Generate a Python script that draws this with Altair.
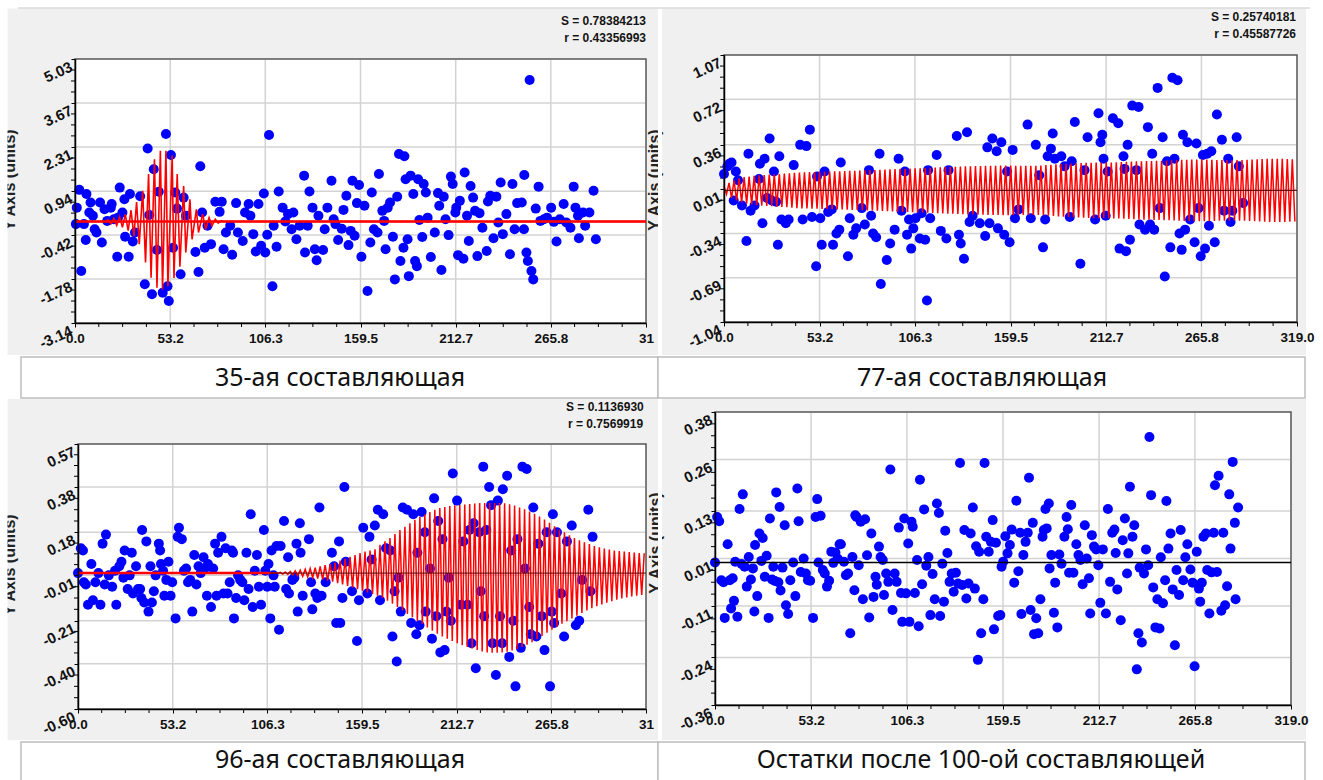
import altair as alt
import numpy as np
import pandas as pd

# ---------------- axis tick labels ----------------
X_MAX = 319.0
X_TICKS = [0.0, 53.2, 106.3, 159.5, 212.7, 265.8, 319.0]
TL_Y_TICKS = [-3.14, -1.78, -0.42, 0.94, 2.31, 3.67, 5.03]
TR_Y_TICKS = [-1.04, -0.69, -0.34, 0.01, 0.36, 0.72, 1.07]
BL_Y_TICKS = [-0.60, -0.40, -0.21, -0.01, 0.18, 0.38, 0.57]
BR_Y_TICKS = [-0.36, -0.24, -0.11, 0.01, 0.13, 0.26, 0.38]
CUT_LABEL = '31'

CAPTIONS = ['35-ая составляющая', '77-ая составляющая', '96-ая составляющая',
            'Остатки после 100-ой составляющей']
STATS_TL = ['S = 0.78384213', 'r = 0.43356993']
STATS_TR = ['S = 0.25740181', 'r = 0.45587726']
STATS_BL = ['S = 0.1136930', 'r = 0.7569919']
AXIS_TITLE = 'Y Axis (units)'

# ---------------- points (x, y) ----------------
tl_pts = [(0.5,-0.08),(1,0.43),(2.4,0.98),(3.5,-1.53),(5,-0.08),(6,-0.57),(6.4,0.85),(8,0.28),(8.7,0.59),(10,0.18),
(11,-0.24),(12,-0.34),(14,0.59),(15,-0.65),(16.5,0.38),(18,0.02),(20,0.43),(20.5,0.54),(21.7,0.07),(23.6,-1.09),
(24,0.12),(25,1.05),(26.5,0.28),(27.6,0.69),(28,-0.47),(30,-1.09),(30.7,0.85),(32.3,-0.62),(33.5,-0.34),(36.4,0.78),
(39,-1.94),(40.6,2.26),(41.5,0.2),(43,-2.25),(44,1.62),(45.8,-0.88),(46.8,0.92),(49,-2.2),(50.8,2.71),(51.7,-2.0),
(52.4,-2.46),(53.6,2.06),(54.8,-0.81),(56,0.9),(57,0.4),(59,-1.63),(60.7,0.74),(62,0.18),(67.3,-0.94),(69,-1.56),
(70,1.71),(71,0.28),(72.5,-0.81),(74,-0.13),(76,-0.7),(78.4,0.61),(80.8,0.3),(82,0.61),(83,-0.86),(84.3,-0.34),
(86.7,-0.13),(87.8,-1.03),(90,0.57),(91,-0.34),(93.7,-0.6),(95,0.28),(97,0.54),(98,0.18),(99.6,-0.39),(101,-0.93),
(102.5,0.54),(104,-0.75),(105.5,0.87),(106.3,-0.96),(107.4,-0.41),(108.4,2.68),(110.3,-2.0),(111,-0.13),(112.6,-0.78),(113.8,0.93),
(116,0.43),(117.5,0.0),(119,0.23),(121,-0.24),(122,0.28),(123.7,-0.55),(125.5,-0.13),(128,1.42),(128.5,-0.96),(130,-0.13),
(131,0.93),(132.7,0.43),(134,-0.86),(135,-1.2),(136,0.18),(138.6,-0.88),(139.5,-0.24),(141,0.43),(143.3,1.26),(144.5,0.07),
(145.5,-0.08),(147,-0.57),(149,-0.22),(150,0.36),(151.6,0.8),(152.8,-0.73),(154,-0.29),(155,1.26),(156.2,-0.44),(157.5,0.57),
(158.7,1.13),(160,-1.09),(161.7,0.49),(163.4,-2.15),(165,-0.65),(165.8,0.9),(167,-0.24),(169,-0.34),(169.8,1.47),(171.7,0.33),
(172.7,0.02),(173.5,-0.86),(174.7,0.43),(176,0.59),(177.6,-0.47),(178.7,-1.79),(180,0.77),(181,2.09),(181.8,-1.22),(183.5,-0.81),
(184,2.02),(184.7,1.31),(185.8,-0.55),(186.5,-1.69),(187.5,1.42),(189,0.85),(190,-1.22),(191,-1.38),(191.7,1.31),(192.4,0.05),
(194,-0.48),(194.8,1.16),(196,0.9),(197,0.12),(198.8,-1.1),(201,-0.34),(202.8,0.88),(203.5,0.49),(204.7,-1.5),(206,0.77),
(207,0.07),(208.7,-0.42),(210,1.39),(211,1.16),(212.5,0.28),(213,0.43),(214,-1.04),(215,0.64),(217,-1.15),(217.7,1.52),
(219,0.18),(220,-0.6),(221,1.1),(222.4,0.74),(223.5,0.33),(224.8,-1.07),(226,0.26),(227.6,-0.19),(230,-0.91),(230.7,0.62),
(232,0.8),(233.8,-0.52),(235.4,0.77),(236.5,-0.03),(237.8,1.21),(239,-0.39),(241,0.23),(243,-1.01),(244.4,1.16),(245.6,-0.24),
(247,0.57),(249.6,0.59),(250.8,-0.24),(251,1.44),(252.2,-0.96),(253,-1.22),(254,4.38),(255,-1.53),(256,-1.79),(257.4,0.4),
(259,1.08),(260,0.02),(262,0.07),(263.7,0.12),(266,0.43),(267.5,-0.01),(269,-0.62),(270.8,0.07),(273,0.54),(274.5,-0.03),
(276.8,-0.19),(278.6,1.08),(279.6,0.43),(281,0.18),(281.5,-0.52),(283.8,0.28),(285,-0.13),(287.4,0.28),(289.7,0.95),(291,-0.55)]

tr_pts = [(0,0.13),(1.9,0.19),(3,0.21),(4.2,0.22),(5.4,-0.08),(6.6,0.15),(7.8,0.08),(10,-0.12),(12.5,-0.4),(13.6,0.29),
(14.8,-0.16),(17,-0.12),(19.5,0.09),(20,0.21),(21.4,-0.26),(22.6,0.25),(24,-0.06),(25.4,0.41),(26.6,-0.08),(27.8,0.15),
(29,-0.09),(30,-0.43),(30.8,0.27),(32,-0.23),(34.4,-0.26),(36,-0.23),(38.8,0.2),(42.4,0.36),(43.8,-0.23),(45.9,0.35),
(47.8,0.48),(49,-0.21),(51.3,-0.6),(51.8,0.11),(53.6,-0.22),(54.4,-0.43),(56,0.15),(58,-0.17),(60,-0.15),(60.7,-0.43),
(62.6,-0.34),(64.2,-0.31),(65,0.22),(69,-0.52),(70,-0.22),(72,-0.35),(73.6,-0.3),(76.7,-0.14),(78.4,-0.27),(80.7,0.16),
(81.9,-0.2),(83,-0.34),(84.7,-0.37),(86.6,0.29),(87.3,-0.74),(90.6,-0.55),(92.5,-0.42),(95,-0.31),(97.2,0.25),(98.8,-0.16),
(100.7,0.15),(101.9,-0.35),(103,-0.23),(104.2,-0.46),(105.4,-0.3),(106.6,-0.22),(109,-0.38),(110,-0.18),(112,-0.39),(113,-0.87),
(113.6,0.16),(114.8,-0.22),(118.4,0.28),(120.7,-0.32),(123.8,-0.38),(125,0.16),(129.6,0.43),(130.8,-0.35),(131.8,-0.42),(133.6,-0.54),
(135.3,0.46),(136.7,-0.25),(138.4,-0.2),(142.4,-0.26),(145.4,-0.36),(146.6,0.34),(147.8,-0.26),(149.4,0.41),(151.8,0.31),(152.5,-0.3),
(154.4,0.38),(156,-0.35),(157.6,0.15),(159,-0.41),(160.7,0.32),(162,-0.22),(164,-0.15),(169,0.52),(170.8,-0.22),(173.6,0.36),
(175.5,0.12),(177.6,-0.45),(178.8,-0.23),(180.2,0.27),(182,0.33),(183,0.45),(184.2,0.25),(187.8,0.27),(189.6,0.19),(192.5,-0.21),
(193.6,0.23),(195.3,0.54),(198.4,-0.58),(200.7,0.16),(202.4,0.42),(206.6,-0.23),(208.5,0.61),(209.6,0.38),(210.6,0.44),(211.3,0.25),
(212.5,-0.2),(213.6,0.15),(216.5,0.57),(219.5,0.53),(220.2,-0.46),(222.4,0.27),(223,0.17),(223.8,-0.48),(224.7,0.36),(226,-0.39),
(227.3,0.67),(229.6,0.16),(230.8,0.66),(231.3,-0.27),(234.4,-0.31),(236,0.5),(237.2,-0.27),(238.4,0.29),(239.5,-0.31),(241.4,0.81),
(242.6,-0.14),(244.2,0.42),(245.4,-0.68),(246.6,0.23),(248.5,-0.45),(249.6,0.89),(250.8,0.25),(252.5,0.87),(253.6,-0.34),(254.8,-0.47),
(255.5,0.44),(256.7,-0.31),(258,0.38),(259.5,-0.23),(262,-0.41),(263,0.37),(264.2,-0.14),(265.4,-0.52),(266.6,0.28),(267.8,-0.46),
(269,0.29),(270,-0.28),(271.3,0.31),(273.2,-0.41),(274.4,0.6),(277.2,0.4),(278.4,-0.16),(280.7,0.25),(282,-0.25),(283,-0.16),
(285.4,0.42),(286.6,0.19),(289,-0.1)]

bl_pts = [(0,0.0),(1.6,0.11),(2.8,0.1),(3.3,-0.04),(4.4,-0.05),(5.6,-0.14),(7.5,0.04),(8.4,-0.12),(9.8,-0.04),(11.5,0.0),
(12.6,-0.14),(13.8,0.13),(15,-0.05),(15.7,0.17),(17.3,-0.01),(19.2,-0.06),(20.8,0.01),(21.5,-0.14),(23.2,0.03),(24.4,0.05),
(25.5,-0.02),(26.2,0.1),(27.9,-0.07),(29,-0.01),(30.2,0.09),(30.9,-0.09),(32.6,0.03),(33.7,-0.07),(34.9,-0.07),(35.6,-0.11),
(36,0.19),(37.2,-0.13),(38.4,0.14),(39.6,-0.17),(40.7,0.03),(41.5,-0.13),(42.6,-0.08),(43.6,-0.01),(45.4,0.13),(46.1,0.1),
(46.6,0.04),(47.8,0.01),(48.5,-0.1),(49.6,-0.03),(50.8,0.05),(52,-0.1),(52.9,-0.04),(54.8,-0.2),(56,0.16),(56.7,0.2),
(58.3,0.15),(59.5,0.01),(60.7,0.02),(61.8,-0.04),(63,-0.03),(64.2,-0.17),(65.3,0.08),(66.5,-0.05),(67.7,0.03),(68.9,0.0),
(70.5,0.07),(71.2,0.02),(72.4,-0.1),(73,0.04),(74.7,-0.15),(75.9,0.02),(77,0.13),(77.8,-0.1),(78.7,0.09),(80.6,0.16),
(81.7,-0.09),(82.9,0.11),(84,-0.09),(85.2,-0.04),(86.4,0.1),(87.1,0.09),(87.6,-0.2),(88.8,-0.11),(89.9,-0.01),(91.1,-0.03),
(92.3,-0.04),(93.4,-0.12),(94.6,0.09),(95.8,-0.07),(97,0.26),(98.1,-0.15),(99.3,0.01),(100.5,0.08),(101.6,-0.06),(102.8,-0.14),
(104.4,0.19),(105.2,0.01),(106.3,-0.06),(107,0.04),(108,-0.2),(108.7,0.1),(109.8,-0.01),(110.5,-0.06),(111.5,0.12),(112.9,-0.25),
(113.8,0.12),(115.7,0.23),(116.9,-0.07),(118,0.07),(118.5,-0.09),(120.4,-0.03),(121.5,-0.02),(122.7,0.13),(123.4,-0.17),(124.6,0.22),
(125,0.09),(126.2,-0.1),(129.7,0.15),(130.9,-0.04),(131.6,-0.16),(133.3,-0.09),(134.4,-0.11),(135.6,0.29),(136.8,-0.1),(139.1,-0.04),
(142.6,0.09),(143.8,0.03),(145,-0.22),(146.6,0.14),(147.3,-0.22),(148.5,-0.11),(149.6,0.38),(150.4,0.05),(153.9,-0.08),(156.7,-0.3),
(157.8,-0.12),(160.2,0.2),(162.5,-0.09),(163.7,0.16),(164.9,0.06),(166.7,0.21),(168.4,0.28),(169.6,-0.12),(171.4,0.26),(173,0.11),
(175.4,0.1),(176.6,-0.28),(177.8,-0.08),(179,-0.39),(180,-0.02),(181.3,-0.17),(182.4,0.29),(184.8,0.28),(187.1,-0.22),(188.3,0.26),
(190,-0.27),(190.6,0.09),(191.8,-0.23),(193,0.27),(194.8,0.18),(195.3,-0.17),(197.7,0.02),(198.8,-0.29),(200,0.33),(201.2,-0.19),
(202.3,0.23),(203.5,-0.35),(204.7,0.15),(205.9,-0.34),(207,-0.17),(208.2,-0.02),(209.4,-0.21),(210.5,0.44),(212.9,0.32),(215.2,-0.14),
(216.4,0.14),(218.7,-0.14),(219.9,0.19),(221,-0.31),(222.2,0.22),(223.4,-0.42),(225.3,0.18),(226.2,-0.08),(227.6,0.47),(228.1,-0.19),
(229.3,0.19),(230.9,0.38),(232,0.3),(232.8,-0.31),(234.7,-0.45),(235.8,0.32),(237,-0.19),(238.2,-0.31),(238.6,0.37),(241,0.43),
(242.2,-0.37),(243.3,0.1),(244.5,-0.21),(245.7,-0.5),(246.8,0.15),(248.7,-0.33),(249.6,0.47),(251,0.02),(252,0.46),(253.4,-0.15),
(254.3,-0.27),(255.7,0.29),(257.4,-0.28),(258.5,0.13),(260.4,-0.19),(262,-0.34),(263.2,0.18),(265.1,-0.5),(266,-0.17),(266.7,0.26),
(267.4,-0.22),(269,0.18),(271.4,-0.09),(273,-0.28),(274.6,0.14),(277.3,0.21),(279.6,-0.23),(281.5,-0.21),(283.1,-0.03),(286.6,0.28),
(287.8,-0.08),(289,0.16)]

br_pts = [(0,0.0),(1.2,0.115),(2.3,0.104),(3.5,-0.045),(4.7,-0.05),(5.4,-0.14),(7,0.046),(8.2,-0.045),(8.9,-0.116),(9.8,-0.04),
(10.5,-0.097),(11.2,0.002),(12.4,-0.137),(13.6,0.135),(14.7,-0.004),(15.4,0.172),(16.4,-0.011),(17.6,-0.061),(18.7,0.014),(19.9,-0.043),
(21,-0.015),(21.8,-0.124),(22.2,0.044),(23.4,-0.085),(24.6,0.073),(25.7,0.004),(26.4,0.062),(27.6,-0.036),(28.6,0.017),(29.7,-0.14),
(30.4,0.111),(31.6,-0.043),(32.3,-0.011),(33.2,-0.047),(33.9,0.177),(35.1,-0.05),(35.8,0.14),(36.3,-0.071),(37.4,-0.013),(38.6,0.094),
(39.3,-0.108),(40.5,-0.13),(41.7,-0.045),(43.3,0.0),(44.5,-0.085),(45.6,0.187),(46.3,0.104),(47.5,-0.024),(49.1,0.01),(50.3,-0.028),
(51.5,-0.045),(52.7,-0.046),(54.3,-0.14),(55.7,0.115),(56.6,0.16),(57.3,0.0),(58.5,0.118),(59.7,-0.019),(60.8,-0.028),(62,-0.061),
(63.2,-0.046),(64.4,0.027),(65.5,-0.001),(66.7,0.025),(67.9,0.01),(69,0.046),(69.7,0.046),(71.4,0.002),(72.5,-0.032),(73.7,-0.028),
(74.9,-0.179),(76.1,0.014),(77.2,-0.07),(77.7,0.119),(78.4,0.115),(79.6,-0.007),(80.7,0.103),(81.9,-0.093),(83.1,0.109),(84.2,0.018),
(85.4,-0.139),(86.6,0.073),(87.8,-0.087),(88.9,-0.036),(89.6,-0.056),(90.8,0.04),(91.7,0.014),(92.9,0.006),(93.6,-0.082),(94.8,-0.028),
(96,-0.049),(97.1,0.235),(98.3,-0.12),(99.5,-0.028),(100.6,-0.049),(101.8,0.088),(103,-0.077),(103.7,-0.15),(104.8,0.111),(105.8,-0.078),
(107,0.048),(107.7,-0.15),(108.8,0.103),(109.5,0.09),(110.7,-0.077),(111.9,0.006),(112.8,-0.161),(113.5,0.209),(114.7,-0.055),(115.8,0.134),
(117,-0.008),(118.2,0.014),(119.3,-0.133),(120.5,-0.029),(121.7,-0.093),(122.9,0.149),(124,0.125),(124.7,-0.135),(125.9,-0.003),(126.8,-0.099),
(127.5,0.08),(128.7,0.024),(129.9,-0.049),(131.1,-0.028),(132.2,-0.074),(133.4,-0.026),(134.6,-0.053),(135.7,0.251),(136.9,-0.057),(138.1,0.082),
(139.2,-0.091),(140.4,-0.053),(141.6,0.073),(142.8,0.139),(143.9,-0.066),(144.6,0.041),(145.6,-0.246),(146.3,0.027),(147.4,-0.179),(148.6,-0.093),
(149.3,0.251),(150.2,0.065),(151.6,0.027),(152.8,0.052),(153.8,0.107),(154.5,-0.169),(155.6,0.05),(156.8,-0.135),(158,-0.133),(158.7,-0.011),
(159.6,0.002),(160.8,0.066),(162,0.023),(163.3,0.044),(164.3,0.083),(165.7,-0.051),(166.9,0.156),(168,-0.022),(169,0.075),(169.7,-0.13),
(170.8,0.019),(172,0.052),(173.2,0.075),(173.9,0.214),(174.8,-0.12),(176,0.1),(176.7,-0.181),(177.9,-0.141),(179,-0.179),(180.2,-0.093),
(181.4,0.065),(182.1,0.082),(183,0.135),(183.7,0.086),(184.9,0.149),(185.3,-0.015),(186.3,0.019),(187.7,-0.127),(188.4,-0.051),(189.6,-0.164),
(190.7,0.02),(191.9,-0.003),(193.5,0.065),(194.7,0.115),(195.4,0.084),(196.1,-0.026),(197.3,0.145),(198.5,-0.026),(200.1,0.046),(201.3,0.019),
(202.4,0.006),(203.6,-0.055),(204.8,0.094),(205.9,0.01),(207.1,-0.04),(207.8,-0.129),(208.7,0.069),(209.9,0.04),(211.1,0.033),(212.3,-0.007),
(213.4,-0.102),(214.8,0.033),(216.5,-0.129),(217.6,0.135),(218.8,-0.049),(220,0.075),(221.2,0.083),(221.9,0.024),(222.8,-0.068),(224.7,-0.146),
(225.8,0.056),(227,0.111),(228.2,-0.028),(228.9,0.023),(229.8,0.191),(231.2,0.065),(232.2,0.094),(233.6,-0.27),(234.5,-0.179),(235.2,-0.013),
(236.4,-0.202),(237.6,-0.028),(238.7,0.033),(239.9,-0.007),(240.6,0.317),(241.5,0.17),(242.7,-0.063),(243.9,-0.164),(245,-0.093),(246.2,-0.167),
(246.9,0.013),(248.1,-0.103),(249.3,-0.045),(250,0.155),(251.1,0.035),(252.3,0.073),(253.5,-0.068),(254.7,-0.209),(255.6,-0.019),(257,-0.082),
(257.9,0.082),(259.3,-0.045),(260.5,0.013),(261.6,0.046),(263.3,-0.018),(264.5,-0.051),(265.6,-0.262),(266.8,0.027),(268,-0.066),(268.7,-0.099),
(269.6,-0.051),(270.5,0.065),(271.9,0.073),(272.6,-0.019),(273.8,-0.129),(275,-0.025),(276.2,0.075),(276.9,0.195),(278,-0.024),(278.9,0.219),
(280.4,-0.122),(281.5,0.075),(282.5,-0.108),(283.6,-0.06),(284.8,0.172),(285.5,0.035),(286.7,0.254),(287.9,0.1),(288.3,-0.093),(289.7,0.139)]

# ---------------- red fitted components ----------------
tl_red = [(0,0),(17,0),(18.5,0.05),(20.1,-0.07),(21.7,0.1),(23.3,-0.12),(24.9,0.15),(26.5,-0.18),(28.1,0.22),(29.7,-0.28),
(31.3,0.35),(32.9,-0.45),(34.4,0.6),(35.9,-0.7),(37.8,0.95),(39.4,-1.27),(41.1,1.47),(42.5,-1.74),(44.4,1.93),(45.8,-2.05),
(47.7,2.19),(48.9,-2.1),(50.8,2.19),(51.9,-2.0),(54.3,2.04),(55.3,-1.75),(57.1,1.47),(58.6,-1.4),(60.7,1.1),(61.9,-0.96),
(64.2,0.69),(65.4,-0.55),(67.8,0.38),(69,-0.34),(71.3,0.23),(73,-0.24),(74.9,0.12),(76.5,-0.13),(78.4,0.07),(80,-0.05),
(81.5,0.02),(83,0),(319,0)]

TR_HALF_STEP = 1.4
tr_amp = [0.03,0.06,0.08,0.095,0.105,0.11,0.115,0.12,0.122,0.125,
0.128,0.13,0.133,0.136,0.14,0.142,0.143,0.144,0.145,0.146,
0.147,0.148,0.15,0.151,0.152,0.154,0.155,0.156,0.158,0.16,
0.16,0.162,0.164,0.166,0.168,0.17,0.171,0.172,0.174,0.175,
0.176,0.178,0.18,0.182,0.184,0.185,0.186,0.188,0.19,0.19,
0.192,0.193,0.194,0.195,0.195,0.196,0.196,0.196,0.195,0.195,
0.194,0.194,0.195,0.197,0.2,0.203,0.206,0.208,0.21,0.212,
0.214,0.216,0.218,0.219,0.22,0.22,0.22,0.221,0.222,0.224,
0.226,0.228,0.23,0.231,0.232,0.233,0.234,0.235,0.236,0.238,
0.24,0.241,0.242,0.243,0.244,0.244,0.243,0.242,0.24,0.239,
0.238,0.238,0.239,0.24,0.242,0.244,0.246,0.248,0.249,0.25,
0.25,0.249,0.248,0.246]

BL_START = 108.0
BL_HALF_STEP = 1.4
bl_top = [0.0,0.002,0.003,0.005,0.007,0.01,0.013,0.017,0.02,0.024,
0.03,0.035,0.04,0.046,0.055,0.063,0.072,0.08,0.088,0.095,
0.1,0.105,0.125,0.14,0.155,0.172,0.19,0.205,0.22,0.235,
0.248,0.26,0.27,0.28,0.287,0.292,0.296,0.299,0.301,0.303,
0.305,0.307,0.309,0.31,0.31,0.31,0.31,0.308,0.304,0.298,
0.29,0.282,0.272,0.262,0.25,0.237,0.222,0.207,0.192,0.18,
0.167,0.155,0.145,0.136,0.128,0.12,0.114,0.109,0.104,0.1,
0.097,0.095,0.093,0.091,0.089,0.088]
bl_bot = [0.0,-0.002,-0.004,-0.006,-0.008,-0.011,-0.014,-0.017,-0.02,-0.024,
-0.028,-0.033,-0.038,-0.044,-0.05,-0.057,-0.064,-0.071,-0.078,-0.085,
-0.092,-0.1,-0.11,-0.122,-0.135,-0.15,-0.165,-0.18,-0.195,-0.21,
-0.225,-0.24,-0.255,-0.268,-0.28,-0.29,-0.3,-0.31,-0.318,-0.326,
-0.333,-0.34,-0.346,-0.35,-0.352,-0.352,-0.35,-0.347,-0.342,-0.335,
-0.326,-0.316,-0.305,-0.292,-0.278,-0.263,-0.25,-0.237,-0.224,-0.212,
-0.2,-0.188,-0.176,-0.165,-0.155,-0.146,-0.138,-0.131,-0.124,-0.118,
-0.112,-0.107,-0.103,-0.1,-0.097,-0.095]

# ---------------- tables ----------------
tr_rows = []
for k, a in enumerate(tr_amp):
    tr_rows.append((TR_HALF_STEP * (2 * k), a))
    tr_rows.append((TR_HALF_STEP * (2 * k + 1), -a))
tr_red_df = pd.DataFrame([r for r in tr_rows if r[0] <= X_MAX], columns=['x', 'y'])
bl_rows = [(0.0, 0.0)]
for k, (t, b) in enumerate(zip(bl_top, bl_bot)):
    bl_rows.append((BL_START + BL_HALF_STEP * (2 * k), t))
    bl_rows.append((BL_START + BL_HALF_STEP * (2 * k + 1), b))
bl_red_df = pd.DataFrame([r for r in bl_rows if r[0] <= X_MAX], columns=['x', 'y'])
tl_red_df = pd.DataFrame(tl_red, columns=['x', 'y'])
ONE = pd.DataFrame({'k': [0]})

W, H = 1323, 780
AX_FONT = "Liberation Sans"
GRID = "#d3d3d3"


def minors(ticks):
    out = []
    for a, b in zip(ticks[:-1], ticks[1:]):
        out += [a + (b - a) * q for q in (0.25, 0.5, 0.75)]
    return out


def panel(P, pts, red_df, yticks, cut, zero_color, zero_width, zero_from=0.0,
          red_width=1.5, flat_red=False):
    L, R, T, B = P
    dom = [yticks[0], yticks[-1]]
    xs = alt.Scale(domain=[0, X_MAX], range=[L, R], nice=False, zero=False)
    ys = alt.Scale(domain=dom, range=[B, T], nice=False, zero=False)
    xlab = f"datum.value > 300 ? '{CUT_LABEL}' : datum.label" if cut else "datum.label"
    style = dict(grid=False, domainColor="black", domainWidth=1.5, tickColor="black",
                 tickWidth=1, tickSize=4, labelFont=AX_FONT, labelFontWeight="bold",
                 labelColor="#111111", labelFlush=False,
                 labelOverlap=False, title=None, zindex=1)
    xaxis = alt.Axis(orient="bottom", offset=B - H, values=X_TICKS, format=".1f",
                     labelExpr=xlab, labelPadding=4, labelFontSize=13.5, **style)
    yaxis = alt.Axis(orient="left", offset=-L, values=yticks, format=".2f",
                     labelExpr="replace(datum.label, '\u2212', '-')",
                     labelAngle=-25, labelAlign="right", labelBaseline="top",
                     labelPadding=3, labelFontSize=15, **style)

    def X(f):
        return alt.X(f, scale=xs, axis=xaxis)

    def Y(f):
        return alt.Y(f, scale=ys, axis=yaxis)

    layers = []
    layers.append(alt.Chart(ONE).mark_rect(fill="white", stroke="#555555", strokeWidth=1.5).encode(
        x=alt.value(L), x2=alt.value(R), y=alt.value(T), y2=alt.value(B)))
    layers.append(alt.Chart(pd.DataFrame({'v': X_TICKS[1:-1]})).mark_rule(color=GRID, strokeWidth=1.5).encode(
        x=X('v:Q'), y=alt.value(T + 1), y2=alt.value(B - 1)))
    layers.append(alt.Chart(pd.DataFrame({'v': yticks[1:-1]})).mark_rule(color=GRID, strokeWidth=1.5).encode(
        y=Y('v:Q'), x=alt.value(L + 1), x2=alt.value(R - 1)))
    layers.append(alt.Chart(pd.DataFrame({'v': minors(X_TICKS)})).mark_rule(color="black", strokeWidth=1).encode(
        x=X('v:Q'), y=alt.value(B), y2=alt.value(B + 4)))
    layers.append(alt.Chart(pd.DataFrame({'v': minors(yticks)})).mark_rule(color="black", strokeWidth=1).encode(
        y=Y('v:Q'), x=alt.value(L - 4), x2=alt.value(L)))
    layers.append(alt.Chart(pd.DataFrame(pts, columns=['x', 'y'])).mark_circle(
        size=100, color="#0000ff", opacity=1).encode(x=X('x:Q'), y=Y('y:Q')))
    if red_df is not None:
        layers.append(alt.Chart(red_df).mark_line(color="#ff0000", strokeWidth=red_width).encode(
            x=X('x:Q'), y=Y('y:Q')))
    if flat_red:
        layers.append(alt.Chart(pd.DataFrame({'a': [0.0], 'b': [zero_from], 'y': [0.0]})).mark_rule(
            color="#ff0000", strokeWidth=2.5).encode(x=X('a:Q'), x2='b:Q', y=Y('y:Q')))
    layers.append(alt.Chart(pd.DataFrame({'a': [zero_from], 'b': [X_MAX], 'y': [0.0]})).mark_rule(
        color=zero_color, strokeWidth=zero_width).encode(x=X('a:Q'), x2='b:Q', y=Y('y:Q')))
    return alt.layer(*layers)


def rect(x1, y1, x2, y2, fill="white", stroke=None, sw=0):
    kw = dict(fill=fill)
    if stroke:
        kw.update(stroke=stroke, strokeWidth=sw)
    return alt.Chart(ONE).mark_rect(**kw).encode(
        x=alt.value(x1), x2=alt.value(x2), y=alt.value(y1), y2=alt.value(y2))


def text(s, x, y, size, align="center", font=AX_FONT, weight="bold", angle=0, color="#141414"):
    kw = dict(text=s, fontSize=size, align=align, baseline="middle", font=font,
              fontWeight=weight, color=color)
    if angle:
        kw['angle'] = angle
    return alt.Chart(ONE).mark_text(**kw).encode(x=alt.value(x), y=alt.value(y))


decor = [
    # cropped axis titles from neighbouring screenshots
    text(AXIS_TITLE, 655, 180, 16, angle=270, color="#222222"),
    text(AXIS_TITLE, 10, 180, 16, angle=270, color="#222222"),
    text(AXIS_TITLE, 10, 565, 16, angle=270, color="#222222"),
    text(AXIS_TITLE, 656, 543, 16, angle=270, color="#222222"),
    rect(0, 0, W, 8.5),
    rect(0, 0, 7.5, H),
    rect(1306, 0, W, H),
    rect(658, 0, 662, H),
    rect(0, 355, W, 399),
    rect(0, 740, W, H),
    rect(18, 7.5, 1310, 8.5, fill="#c8c8c8"),
    rect(21, 357, 658, 398, stroke="#bdbdbd", sw=1.5),
    rect(658, 357, 1305, 398, stroke="#bdbdbd", sw=1.5),
    rect(21, 742, 658, 781, stroke="#bdbdbd", sw=1.5),
    rect(658, 742, 1305, 781, stroke="#bdbdbd", sw=1.5),
    text(CAPTIONS[0], 340, 377.5, 25, font="Noto Sans", weight="normal", color="#111111"),
    text(CAPTIONS[1], 982, 377.5, 25, font="Noto Sans", weight="normal", color="#111111"),
    text(CAPTIONS[2], 340, 760, 25, font="Noto Sans", weight="normal", color="#111111"),
    text(CAPTIONS[3], 981, 760, 25, font="Noto Sans", weight="normal", color="#111111"),
    text(STATS_TL[0], 646, 21, 12, align="right"),
    text(STATS_TL[1], 646, 38, 12, align="right"),
    text(STATS_TR[0], 1296, 17, 12, align="right"),
    text(STATS_TR[1], 1296, 33.5, 12, align="right"),
    text(STATS_BL[0], 566, 407, 12, align="left"),
    text(STATS_BL[1], 568, 423.5, 12, align="left"),
]

tl = panel((75, 646, 59, 323), tl_pts, tl_red_df, TL_Y_TICKS, True, "#ff0000", 2.5, red_width=1.6)
tr = panel((724, 1297, 55, 322), tr_pts, tr_red_df, TR_Y_TICKS, False, "#5a0000", 1)
bl = panel((78, 646, 444, 709), bl_pts, bl_red_df, BL_Y_TICKS, True, "#5a0000", 1,
           zero_from=BL_START, flat_red=True)
br = panel((715, 1291, 412, 705), br_pts, None, BR_Y_TICKS, False, "#000000", 1.5)

chart = alt.layer(*decor, tl, tr, bl, br).resolve_scale(
    x="independent", y="independent"
).resolve_axis(
    x="independent", y="independent"
).properties(
    width=W, height=H, padding=0, background="#f0f0f0",
    autosize=alt.AutoSizeParams(type="none")
).configure_view(stroke="transparent", fill="transparent")

chart.save("out.html", embed_options={"renderer": "svg", "actions": False})
